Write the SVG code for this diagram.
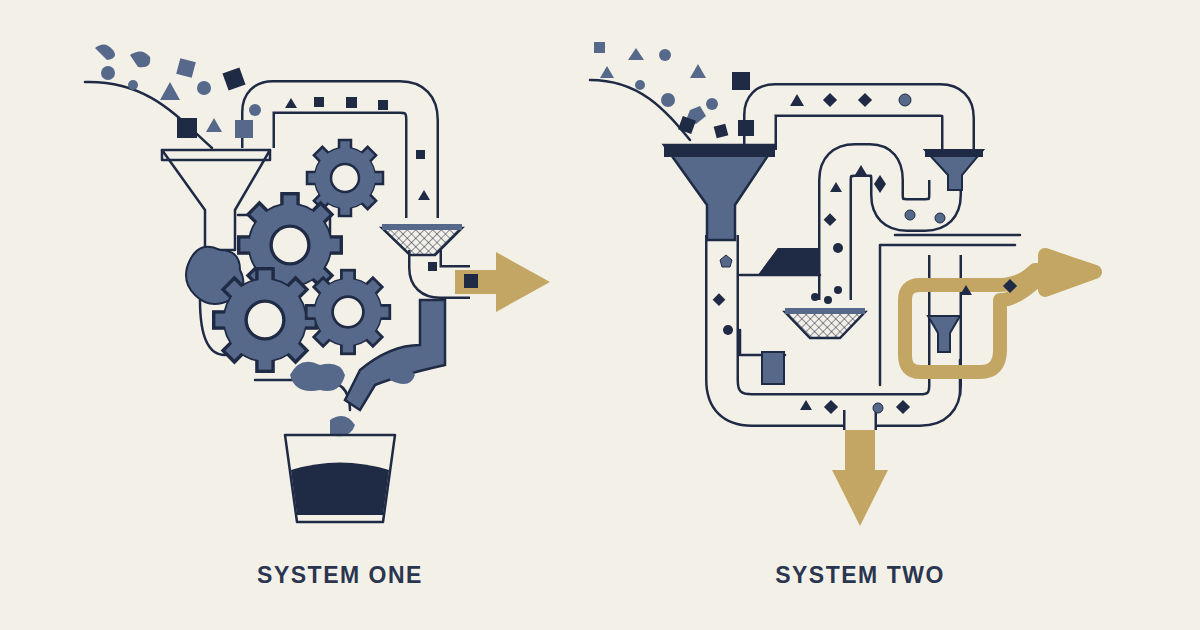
<svg xmlns="http://www.w3.org/2000/svg" width="1200" height="630" viewBox="0 0 1200 630">
<style>
.ln{fill:none;stroke:#1f2a44;stroke-width:2.5;stroke-linecap:round;stroke-linejoin:round}
.tube{fill:none;stroke:#1f2a44;stroke-width:34;stroke-linecap:butt;stroke-linejoin:round}
.tubein{fill:none;stroke:#f3f0e8;stroke-width:29;stroke-linejoin:round}
.d{fill:#1f2a44}.s{fill:#56698a}.g{fill:#c4a664}
.gear{fill:#56698a;stroke:#1f2a44;stroke-width:2.5}
.lbl{font-family:"Liberation Sans",Arial,sans-serif;font-size:23px;font-weight:bold;fill:#2a3550;letter-spacing:1.5px}
</style>
<defs>
<pattern id="mesh" width="6" height="6" patternUnits="userSpaceOnUse" patternTransform="rotate(45)"><path d="M0 0H6M0 0V6" stroke="#1f2a44" stroke-width="1"/></pattern>
<g id="gr">
<circle r="30" class="gear"/>
<g class="gear"><rect x="-6" y="-38" width="12" height="12"/><rect x="-6" y="26" width="12" height="12"/><rect x="-38" y="-6" width="12" height="12"/><rect x="26" y="-6" width="12" height="12"/>
<rect x="-6" y="-38" width="12" height="12" transform="rotate(45)"/><rect x="-6" y="-38" width="12" height="12" transform="rotate(135)"/><rect x="-6" y="-38" width="12" height="12" transform="rotate(225)"/><rect x="-6" y="-38" width="12" height="12" transform="rotate(315)"/></g>
<circle r="30" fill="#56698a"/>
<circle r="14" fill="#f3f0e8" stroke="#1f2a44" stroke-width="2.5"/>
</g>
</defs>
<rect width="1200" height="630" fill="#f3f0e8"/>

<g id="connectors">
<!-- System one -->
<path class="ln" d="M85 82 C150 80 180 120 212 148"/>
<path class="tube" d="M258 148 V112 Q258 97 273 97 H400 Q422 97 422 120 V218"/>
<path class="tubein" d="M258 152 V112 Q258 97 273 97 H400 Q422 97 422 120 V222"/>
<path class="tube" d="M425 250 V268 Q425 282 440 282 H470"/>
<path class="tubein" d="M425 246 V268 Q425 282 440 282 H474"/>
<path class="ln" d="M238 215 H330 V250 M205 260 Q205 290 230 290 M200 300 Q200 355 225 355 M255 380 H320 Q350 380 350 410"/>
<path d="M420 300 H445 V365 Q400 375 375 385 L360 410 L345 400 L360 370 Q390 345 420 345 Z" class="s" stroke="#1f2a44" stroke-width="2.5"/>
<!-- System two -->
<path class="ln" d="M590 80 C640 80 665 110 690 140"/>
<path class="tube" d="M760 150 V115 Q760 100 775 100 H940 Q958 100 958 118 V150"/>
<path class="tubein" d="M760 154 V115 Q760 100 775 100 H940 Q958 100 958 118 V154"/>
<path class="tube" d="M722 235 V380 Q722 410 752 410 H920 Q945 410 945 385 V255"/>
<path class="tubein" d="M722 231 V380 Q722 410 752 410 H920 Q945 410 945 385 V251"/>
<path class="tube" d="M835 300 V180 Q835 160 855 160 H870 Q887 160 887 180 V195 Q887 215 907 215 H925 Q945 215 945 195 V180"/>
<path class="tubein" d="M835 304 V180 Q835 160 855 160 H870 Q887 160 887 180 V195 Q887 215 907 215 H925 Q945 215 945 195 V176"/>
<path class="tube" d="M860 410 V430"/>
<path class="tubein" d="M860 405 V430"/>
<path class="ln" d="M740 275 H820 M740 330 V355 H785 M880 245 V385 M880 245 H1015 M895 235 H1020 M960 360 V395"/>
<rect x="845" y="430" width="30" height="40" class="g"/>
<polygon points="832,470 888,470 860,526" class="g"/>
<path d="M905 300 Q905 285 920 285 H1000 Q1020 285 1035 270 H1045 V255 L1095 272 L1045 290 V282 H1035 Q1015 300 1000 300 V350 Q1000 372 980 372 H920 Q905 372 905 355 Z" fill="none" stroke="#c4a664" stroke-width="14" stroke-linejoin="round"/>
<polygon points="1045,255 1097,272 1045,290" class="g"/>
</g>

<g id="shapes1">
<circle cx="108" cy="73" r="7" class="s"/><path d="M95 48 q10 -8 18 2 q6 8 -6 10z" class="s"/><path d="M130 55 q12 -8 20 2 q2 12 -12 10z" class="s"/>
<polygon points="160,100 170,82 180,100" class="s"/><rect x="178" y="60" width="16" height="16" class="s" transform="rotate(15 186 68)"/>
<rect x="225" y="70" width="18" height="18" class="d" transform="rotate(-20 234 79)"/><circle cx="204" cy="88" r="7" class="s"/>
<rect x="177" y="118" width="20" height="20" class="d"/><rect x="235" y="120" width="18" height="18" class="s"/><polygon points="206,132 214,118 222,132" class="s"/>
<circle cx="133" cy="85" r="5" class="s"/><circle cx="255" cy="110" r="6" class="s"/>
<polygon points="285,108 291,98 297,108" class="d"/><rect x="314" y="97" width="10" height="10" class="d"/><rect x="346" y="97" width="11" height="11" class="d"/><rect x="378" y="100" width="10" height="10" class="d"/>
<rect x="416" y="150" width="9" height="9" class="d"/><polygon points="418,200 424,190 430,200" class="d"/><rect x="428" y="262" width="9" height="9" class="d"/><rect x="466" y="276" width="12" height="12" class="d"/>
</g>
<g id="funnel1"><path d="M162 150 H270 L235 210 V250 H205 V210 Z" fill="#f3f0e8" class="ln"/><path class="ln" d="M162 150 V160 H270 V150"/></g>
<g id="gears1">
<path d="M190 260 q10 -20 30 -10 q20 0 20 20 q10 20 -10 30 q-20 10 -35 -5 q-15 -15 -5 -35z" class="s" stroke="#1f2a44" stroke-width="2"/>
<use href="#gr" transform="translate(345 178) scale(1)"/>
<use href="#gr" transform="translate(290 245) scale(1.35)"/>
<use href="#gr" transform="translate(265 320) scale(1.35)"/>
<use href="#gr" transform="translate(348 312) scale(1.1)"/>
</g>
<g id="sieve1"><path d="M382 228 H462 L435 255 H410 Z" fill="url(#mesh)" stroke="#1f2a44" stroke-width="2.5"/><rect x="382" y="224" width="80" height="6" class="s"/></g>
<g id="arrow1"><rect x="455" y="270" width="45" height="24" class="g"/><polygon points="496,252 550,282 496,312" class="g"/><rect x="464" y="274" width="14" height="14" class="d"/></g>
<g id="cup1">
<path d="M290 375 q10 -20 30 -10 q20 -5 25 10 q-5 20 -25 15 q-25 5 -30 -15z" class="s"/>
<path d="M390 370 q15 -10 25 5 q-5 15 -25 5z" class="s"/><path d="M330 420 q15 -10 25 5 q-5 15 -25 10z" class="s"/>
<path d="M285 435 H395 L383 522 H297 Z" fill="#f3f0e8" class="ln"/><path d="M291 470 Q340 455 389 470 L383 515 H297 Z" class="d"/>
</g>
<text x="340" y="583" class="lbl" text-anchor="middle">SYSTEM ONE</text>

<g id="shapes2">
<rect x="594" y="42" width="11" height="11" class="s"/><polygon points="600,78 607,66 614,78" class="s"/><polygon points="628,60 636,48 644,60" class="s"/>
<circle cx="665" cy="55" r="6" class="s"/><circle cx="640" cy="85" r="5" class="s"/><polygon points="690,78 698,64 706,78" class="s"/>
<rect x="732" y="72" width="18" height="18" class="d"/><circle cx="668" cy="100" r="7" class="s"/><circle cx="712" cy="104" r="6" class="s"/>
<polygon points="690,110 700,106 706,116 696,124 686,120" class="s"/><rect x="680" y="118" width="14" height="14" class="d" transform="rotate(20 687 125)"/><rect x="715" y="125" width="12" height="12" class="d" transform="rotate(-15 721 131)"/><rect x="738" y="120" width="16" height="16" class="d"/>
<polygon points="790,106 797,94 804,106" class="d"/><rect x="825" y="95" width="10" height="10" class="d" transform="rotate(45 830 100)"/><rect x="860" y="95" width="10" height="10" class="d" transform="rotate(45 865 100)"/><circle cx="905" cy="100" r="6" class="s" stroke="#1f2a44"/>
<polygon points="855,175 861,165 867,175" class="d"/><polygon points="830,192 836,182 842,192" class="d"/><rect x="826" y="215" width="9" height="9" class="d" transform="rotate(45 830 219)"/><circle cx="838" cy="248" r="5" class="d"/>
<polygon points="880,175 886,184 880,193 874,184" class="d"/><circle cx="910" cy="215" r="5" class="s" stroke="#1f2a44"/><circle cx="940" cy="218" r="5" class="s" stroke="#1f2a44"/>
<polygon points="720,260 726,255 732,260 730,267 722,267" class="s" stroke="#1f2a44"/><rect x="715" y="295" width="9" height="9" class="d" transform="rotate(45 719 299)"/><circle cx="728" cy="330" r="5" class="d"/>
<polygon points="800,410 806,400 812,410" class="d"/><rect x="826" y="402" width="10" height="10" class="d" transform="rotate(45 831 407)"/><circle cx="878" cy="408" r="5" class="s" stroke="#1f2a44"/><rect x="898" y="402" width="10" height="10" class="d" transform="rotate(45 903 407)"/>
<circle cx="815" cy="297" r="4" class="d"/><circle cx="828" cy="300" r="4" class="d"/><circle cx="838" cy="290" r="4" class="d"/>
<polygon points="960,295 966,285 972,295" class="d"/><rect x="1005" y="281" width="10" height="10" class="d" transform="rotate(45 1010 286)"/>
</g>
<g id="funnel2"><path d="M664 145 H775 L735 205 V240 H707 V205 Z" class="s" stroke="#1f2a44" stroke-width="2.5"/><rect x="664" y="145" width="111" height="12" class="d"/></g>
<g id="funnel3"><path d="M925 150 H983 L962 175 V190 H948 V175 Z" class="s" stroke="#1f2a44" stroke-width="2"/><rect x="925" y="150" width="58" height="7" class="d"/></g>
<g id="house2"><polygon points="758,275 778,248 820,248 820,275" class="d"/><polygon points="758,275 778,248 798,275" class="d"/></g>
<g id="sieve2"><path d="M785 312 H865 L840 338 H810 Z" fill="url(#mesh)" stroke="#1f2a44" stroke-width="2.5"/><rect x="785" y="308" width="80" height="6" class="s"/></g>
<g id="block2"><rect x="762" y="352" width="22" height="32" class="s" stroke="#1f2a44" stroke-width="2"/></g>
<g id="loopfunnel"><path d="M928 316 H960 L950 333 V352 H938 V333 Z" class="s" stroke="#1f2a44" stroke-width="2"/></g>
<text x="860" y="583" class="lbl" text-anchor="middle">SYSTEM TWO</text>
</svg>
